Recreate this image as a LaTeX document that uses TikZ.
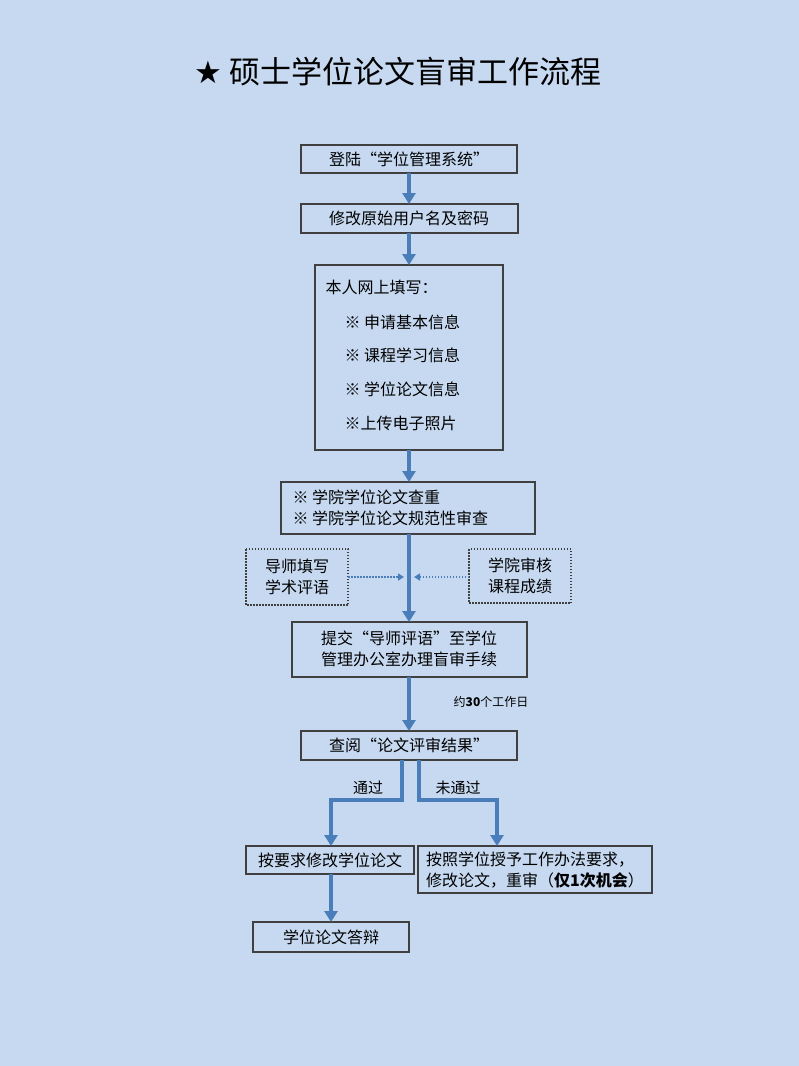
\documentclass[tikz,border=0pt]{standalone}
\usepackage{fontspec}
\setmainfont{Noto Sans CJK SC}
\newfontfamily\symf{DejaVu Sans}
\usetikzlibrary{arrows.meta}
\definecolor{bg}{HTML}{C6D9F0}
\definecolor{ar}{HTML}{4A7EBB}
\begin{document}
\begin{tikzpicture}[x=1pt,y=-1pt,
 box/.style={draw=black!75,line width=1.1pt,inner sep=0pt},
 dbox/.style={box,dash pattern=on 1.5pt off 1.5pt},
 tx/.style={font=\fontsize{16}{25}\selectfont,align=center},
 main/.style={draw=ar,line width=4pt,-{Triangle[width=13pt,length=11pt]}},
 dot/.style={draw=ar,line width=1.5pt,dash pattern=on 1.5pt off 1.5pt,-{Triangle[width=7pt,length=6pt]}}]
\fill[bg] (0,0) rectangle (799,1066);
\node[font=\fontsize{31}{36}\selectfont] (title) at (398,72) {{\symf ★} 硕士学位论文盲审工作流程};
\draw[box,fill=bg] (301,145) rectangle (517,173); \node[tx] (b1) at (409,159) {登陆“学位管理系统”};
\coordinate (b1s) at (409,173);
\draw[box,fill=bg] (301,204) rectangle (518,233); \node[tx] (b2) at (409,218) {修改原始用户名及密码};
\coordinate (b2n) at (409,204); \coordinate (b2s) at (409,233);
\draw[box,fill=bg] (315,265) rectangle (503,450);
\node[tx,anchor=west] (b3a) at (322,287) {本人网上填写：};
\node[tx,anchor=west] (b3b) at (341,322) {※ 申请基本信息};
\node[tx,anchor=west] (b3c) at (341,355) {※ 课程学习信息};
\node[tx,anchor=west] (b3d) at (341,389) {※ 学位论文信息};
\node[tx,anchor=west] (b3e) at (341,423) {※上传电子照片};
\coordinate (b3n) at (409,265); \coordinate (b3s) at (409,450);
\draw[box,fill=bg] (281,482) rectangle (535,534);
\node[tx,align=left,anchor=west] (b4) at (289,508) {※ 学院学位论文查重\\[-4pt]※ 学院学位论文规范性审查};
\coordinate (b4n) at (409,482); \coordinate (b4s) at (409,534);
\draw[dbox] (246,549) rectangle (348,605); \node[tx] (b5) at (297,577) {导师填写\\[-4pt]学术评语};
\draw[dbox] (469,549) rectangle (571,603); \node[tx] (b6) at (520,576) {学院审核\\[-4pt]课程成绩};
\draw[box] (292,622) rectangle (527,677); \node[tx] (b7) at (409,649) {提交“导师评语”至学位\\[-4pt]管理办公室办理盲审手续};
\coordinate (b7n) at (409,622); \coordinate (b7s) at (409,677);
\draw[box] (301,731) rectangle (517,760); \node[tx] (b8) at (409,745) {查阅“论文评审结果”};
\coordinate (b8n) at (409,731);
\draw[box] (246,846) rectangle (414,874); \node[tx] (b9) at (330,860) {按要求修改学位论文};
\draw[box] (418,846) rectangle (652,893); \node[tx,align=left] (b10) at (535,870) {按照学位授予工作办法要求，\\[-4pt]修改论文，重审（\textbf{仅1次机会}）};
\draw[box] (253,922) rectangle (409,952); \node[tx] (b11) at (331,937) {学位论文答辩};
\coordinate (b5e) at (348,577); \coordinate (b6w) at (469,577);
\coordinate (c1) at (404,577); \coordinate (c2) at (414,577);
\coordinate (p1) at (402,760); \coordinate (q1) at (419,760);
\coordinate (p2) at (331,846); \coordinate (q2) at (497,846);
\coordinate (r1) at (331,874); \coordinate (r2) at (331,922);
\draw[main] (b1s) -- (b2n);
\draw[main] (b2s) -- (b3n);
\draw[main] (b3s) -- (b4n);
\draw[main] (b4s) -- (b7n);
\draw[main] (b7s) -- (b8n);
\draw[main] (p1) -- ++(0,40) -| (p2);
\draw[main] (q1) -- ++(0,40) -| (q2);
\draw[main] (r1) -- (r2);
\draw[dot] (b5e) -- (c1);
\draw[dot] (b6w) -- (c2);
\node[font=\fontsize{12}{14}\selectfont] (l1) at (491,702) {约\textbf{30}个工作日};
\node[font=\fontsize{15}{18}\selectfont] (l2) at (368,788) {通过};
\node[font=\fontsize{15}{18}\selectfont] (l3) at (458,788) {未通过};
\end{tikzpicture}
\end{document}
